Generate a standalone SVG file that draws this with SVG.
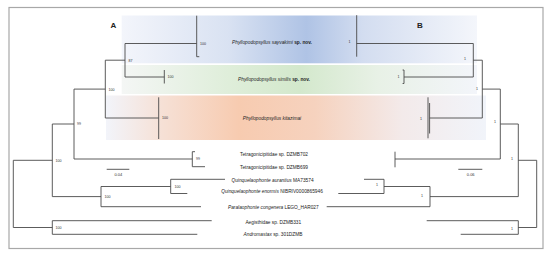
<svg xmlns="http://www.w3.org/2000/svg" width="550" height="257" viewBox="0 0 550 257">
<defs>
<linearGradient id="gBlue" x1="0" y1="0" x2="1" y2="0">
<stop offset="0" stop-color="#f3f5fb"/>
<stop offset="0.3" stop-color="#d9e2f2"/>
<stop offset="0.52" stop-color="#afc3e5"/>
<stop offset="0.68" stop-color="#d3ddf0"/>
<stop offset="1" stop-color="#f4f6fb"/>
</linearGradient>
<linearGradient id="gGreen" x1="0" y1="0" x2="1" y2="0">
<stop offset="0" stop-color="#f4f6f5"/>
<stop offset="0.3" stop-color="#dfeeda"/>
<stop offset="0.5" stop-color="#d3e8cc"/>
<stop offset="0.72" stop-color="#e8f1e6"/>
<stop offset="1" stop-color="#f3f5fa"/>
</linearGradient>
<linearGradient id="gOrange" x1="0" y1="0" x2="1" y2="0">
<stop offset="0" stop-color="#f2f4fa"/>
<stop offset="0.15" stop-color="#f6e0d5"/>
<stop offset="0.35" stop-color="#f7cbb0"/>
<stop offset="0.55" stop-color="#f6d2be"/>
<stop offset="0.78" stop-color="#f3eaea"/>
<stop offset="1" stop-color="#f1f4fa"/>
</linearGradient>
</defs>
<style>
.br{fill:none;stroke:#4a4a4a;stroke-width:0.9}
.sp{font-family:"Liberation Sans",Arial,sans-serif;font-size:4.8px;fill:#222;text-anchor:middle}
.it{font-style:italic}
.bd{font-weight:bold}
.sl{font-family:"Liberation Sans",Arial,sans-serif;font-size:3.6px;fill:#333}
.slr{font-family:"Liberation Sans",Arial,sans-serif;font-size:3.6px;fill:#333;text-anchor:end}
.pn{font-family:"Liberation Sans",Arial,sans-serif;font-size:8px;font-weight:bold;fill:#222;text-anchor:middle}
.sc{font-family:"Liberation Sans",Arial,sans-serif;font-size:4px;fill:#333;text-anchor:middle}
</style>
<rect x="0" y="0" width="550" height="257" fill="#fff"/>
<rect x="9" y="7.5" width="534" height="241" fill="#fff" stroke="#a8a8a8" stroke-width="1.2"/>
<g id="bands">
<rect x="121.7" y="15.5" width="355.3" height="47.8" fill="url(#gBlue)"/>
<rect x="121.7" y="65" width="355.3" height="29" fill="url(#gGreen)"/>
<rect x="106" y="95.5" width="380" height="44.5" fill="url(#gOrange)"/>
</g>
<g id="panel-labels">
<text class="pn" x="113.5" y="28">A</text>
<text class="pn" x="420" y="28">B</text>
</g>
<g id="connectors">
<!-- Tree A -->
<path class="br" d="M13.3,160.3V227.5 M13.3,160.3H52.3 M13.3,227.5H52.3"/>
<path class="br" d="M52.3,124V196.6 M52.3,124H74 M52.3,196.6H101"/>
<path class="br" d="M74,89.1V159 M74,89.1H105.3 M74,159H192.3"/>
<path class="br" d="M105.3,60.2V118 M105.3,60.2H125 M105.3,118H158.7"/>
<path class="br" d="M125,43.5V77 M125,43.5H196.7 M125,77H164.3"/>
<path class="br" d="M196.7,15.7V56.7H199.3"/>
<path class="br" d="M164.3,70V83.5"/>
<path class="br" d="M158.7,97.3V139"/>
<path class="br" d="M192.3,151.7V166.7 M192.3,151.7H195 M192.3,166.7H205"/>
<path class="br" d="M101,186.5V206.7 M101,186.5H170.7 M101,206.7H201"/>
<path class="br" d="M170.7,179.3V193.5 M170.7,179.3H225 M170.7,193.5H187.3"/>
<path class="br" d="M52.3,220.7V234.3 M52.3,220.7H211.7 M52.3,234.3H197.3"/>
<!-- Tree B -->
<path class="br" d="M536.7,160.3V227.5 M536.7,160.3H518.3 M536.7,227.5H518.3"/>
<path class="br" d="M518.3,124V196.6 M518.3,124H500.3 M518.3,196.6H430"/>
<path class="br" d="M500.3,89.1V159 M500.3,89.1H482.3 M500.3,159H395"/>
<path class="br" d="M482.3,60.2V118 M482.3,60.2H473.3 M482.3,118H429.6"/>
<path class="br" d="M473.3,43.5V77 M473.3,43.5H356.7 M473.3,77H404"/>
<path class="br" d="M356.7,15.2V56.7"/>
<path class="br" d="M402.6,70H404V83.5H402.6"/>
<path class="br" d="M428,97.3V138.3 M429.6,103V133.5"/>
<path class="br" d="M395,151.7V167.3"/>
<path class="br" d="M430,186.5V206.7 M430,186.5H384 M430,206.7H326.7"/>
<path class="br" d="M384,179.3V193.5 M384,179.3H364 M384,193.5H338.3"/>
<path class="br" d="M518.3,220.7V234.3 M518.3,220.7H426.7 M518.3,234.3H460.7"/>
<!-- scale bars -->
<path class="br" d="M106.7,169.3H129.3 M458.3,169.3H482.3"/>
</g>
<g id="support-A">
<text class="sl" x="200" y="45">100</text>
<text class="sl" x="128.5" y="62">87</text>
<text class="sl" x="167.5" y="78.2">100</text>
<text class="sl" x="108.5" y="90.5">100</text>
<text class="sl" x="162" y="119.2">100</text>
<text class="sl" x="77" y="124.5">99</text>
<text class="sl" x="196" y="160.3">99</text>
<text class="sl" x="55.5" y="161.5">100</text>
<text class="sl" x="104.5" y="197.9">100</text>
<text class="sl" x="174.5" y="187.5">100</text>
<text class="sl" x="55.5" y="228.6">100</text>
</g>
<g id="support-B">
<text class="slr" x="350.5" y="43">1</text>
<text class="slr" x="466" y="59.5">1</text>
<text class="slr" x="399.5" y="78">1</text>
<text class="slr" x="478" y="89.5">1</text>
<text class="slr" x="422" y="119.5">1</text>
<text class="slr" x="496" y="123">1</text>
<text class="slr" x="513" y="159.5">1</text>
<text class="slr" x="378" y="186.3">1</text>
<text class="slr" x="423" y="197.3">1</text>
<text class="slr" x="513" y="229.6">1</text>
</g>
<g id="scale-labels">
<text class="sc" x="118.3" y="175.8">0.04</text>
<text class="sc" x="470.7" y="175.8">0.06</text>
</g>
<g id="node-sayvakimi"><text class="sp" x="272" y="43.5"><tspan class="it">Phyllopodopsyllus sayvakimi</tspan> <tspan class="bd">sp. nov.</tspan></text></g>
<g id="node-similis"><text class="sp" x="274" y="81"><tspan class="it">Phyllopodopsyllus similis</tspan> <tspan class="bd">sp. nov.</tspan></text></g>
<g id="node-kitazimai"><text class="sp it" x="272" y="119.5">Phyllopodopsyllus kitazimai</text></g>
<g id="node-DZMB702"><text class="sp" x="274" y="155.7">Tetragonicipitidae sp. DZMB702</text></g>
<g id="node-DZMB699"><text class="sp" x="274" y="169">Tetragonicipitidae sp. DZMB699</text></g>
<g id="node-aurantius"><text class="sp" x="272.5" y="181.7"><tspan class="it">Quinquelaophonte aurantius</tspan> MA73574</text></g>
<g id="node-enormis"><text class="sp" x="272" y="193.4"><tspan class="it">Quinquelaophonte enormis</tspan> NIBRIV0000865946</text></g>
<g id="node-congenera"><text class="sp" x="273.3" y="209"><tspan class="it">Paralaophonte congenera</tspan> LEGO_HAR027</text></g>
<g id="node-DZMB331"><text class="sp" x="273.3" y="224">Aegisthidae sp. DZMB331</text></g>
<g id="node-301DZMB"><text class="sp" x="273" y="235.7"><tspan class="it">Andromastax</tspan> sp. 301DZMB</text></g>
</svg>
